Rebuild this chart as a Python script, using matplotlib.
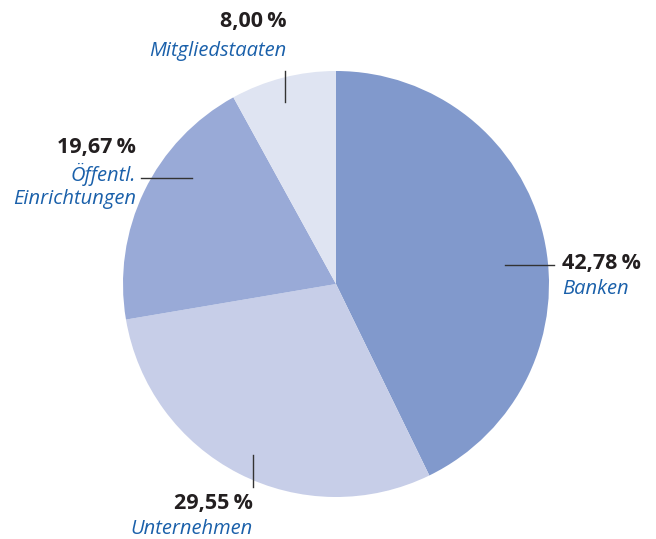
import matplotlib.pyplot as plt

labels = ['Banken', 'Unternehmen', 'Öffentl.\nEinrichtungen', 'Mitgliedstaaten']
shares = [42.78, 29.55, 19.67, 8.00]
colors = ['#8199cc', '#c7cee8', '#99aad7', '#dfe4f2']

W, H = 656, 539
fig = plt.figure(figsize=(W / 100, H / 100), dpi=100)
ax = fig.add_axes([0, 0, 1, 1])

# pie drawn straight in pixel coords, y axis flipped -> counterclock=True
cx, cy, r = 336, 284, 213
ax.pie(shares, colors=colors, startangle=-90, counterclock=True,
       center=(cx, cy), radius=r, frame=True,
       wedgeprops=dict(linewidth=0))
ax.set_xlim(0, W)
ax.set_ylim(H, 0)
ax.set_aspect('equal')
ax.axis('off')

pct = ['%s\u2009%%' % ('%.2f' % v).replace('.', ',') for v in shares]
font = ['Open Sans', 'DejaVu Sans']
dark = '#231f20'
blue = '#1a60aa'
lc = '#333333'

# (line x0, y0, x1, y1, text x, number y, label y, ha)
spots = [
    (505, 265, 554, 265, 562, 263, 289, 'left'),
    (253, 455, 253, 487, 253, 504, 529, 'right'),
    (141, 178, 192, 178, 136, 147, 186, 'right'),
    (285, 71, 285, 102, 286, 21, 51, 'right'),
]
for i, (x0, y0, x1, y1, tx, ny, ly, ha) in enumerate(spots):
    ax.plot([x0, x1], [y0, y1], color=lc, lw=1.0)
    ax.text(tx, ny, pct[i], ha=ha, va='center', fontsize=15.5,
            fontweight='bold', color=dark, family=font)
    ax.text(tx, ly, labels[i], ha=ha, va='center', fontsize=14.5,
            style='italic', color=blue, family=font, linespacing=1.15)

fig.savefig('out.png', dpi=100)
